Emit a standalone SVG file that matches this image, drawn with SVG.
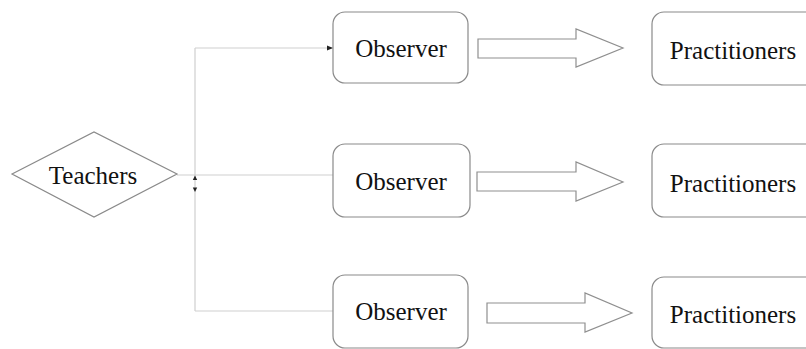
<svg xmlns="http://www.w3.org/2000/svg" width="806" height="349" viewBox="0 0 806 349">
  <style>
    .box { fill: #ffffff; stroke: #8a8a8a; stroke-width: 1.2; }
    .label { font-family: "Liberation Serif", "Times New Roman", serif; font-size: 25px; fill: #111111; text-anchor: middle; dominant-baseline: central; }
    .link { fill: none; stroke: #cfcfcf; stroke-width: 1.2; }
    .block { fill: #ffffff; stroke: #8f8f8f; stroke-width: 1.2; }
    .tip { fill: #222222; }
  </style>
  <defs>
    <marker id="head" markerWidth="7" markerHeight="7" refX="6" refY="3.5" orient="auto" markerUnits="userSpaceOnUse">
      <path d="M0,1 L6,3.5 L0,6 Z" class="tip"/>
    </marker>
  </defs>
  <rect width="806" height="349" fill="#ffffff"/>

  <!-- connectors -->
  <g id="connectors">
    <path class="link" d="M177,175 H333"/>
    <path class="link" d="M195,48 V311"/>
    <path class="link" d="M195,48 H333" marker-end="url(#head)"/>
    <path class="link" d="M195,311 H333"/>
    <path class="tip" d="M192.8,180 L195,175.5 L197.2,180 Z"/>
    <path class="tip" d="M192.8,187.5 L195,192 L197.2,187.5 Z"/>
    <path class="block" d="M478,39 H576 V29 L623,48 L576,67 V58 H478 Z"/>
    <path class="block" d="M477,172 H576 V162 L623,182 L576,201 V191 H477 Z"/>
    <path class="block" d="M487,303 H585 V293 L632,313 L585,332 V323 H487 Z"/>
  </g>

  <g id="teachers">
    <path class="box" d="M12,174 L94,132 L177,174 L94,217 Z"/>
    <text class="label" x="93" y="175">Teachers</text>
  </g>

  <g id="observer-1">
    <rect class="box" x="333" y="12" width="135" height="71" rx="12"/>
    <text class="label" x="401" y="48">Observer</text>
  </g>
  <g id="observer-2">
    <rect class="box" x="333" y="144" width="137" height="73" rx="12"/>
    <text class="label" x="401" y="181">Observer</text>
  </g>
  <g id="observer-3">
    <rect class="box" x="333" y="275" width="135" height="73" rx="12"/>
    <text class="label" x="401" y="311">Observer</text>
  </g>

  <g id="practitioners-1">
    <rect class="box" x="652" y="12" width="170" height="73" rx="12"/>
    <text class="label" x="733" y="50">Practitioners</text>
  </g>
  <g id="practitioners-2">
    <rect class="box" x="652" y="144" width="170" height="73" rx="12"/>
    <text class="label" x="733" y="183">Practitioners</text>
  </g>
  <g id="practitioners-3">
    <rect class="box" x="652" y="277" width="170" height="71" rx="12"/>
    <text class="label" x="733" y="314">Practitioners</text>
  </g>
</svg>
